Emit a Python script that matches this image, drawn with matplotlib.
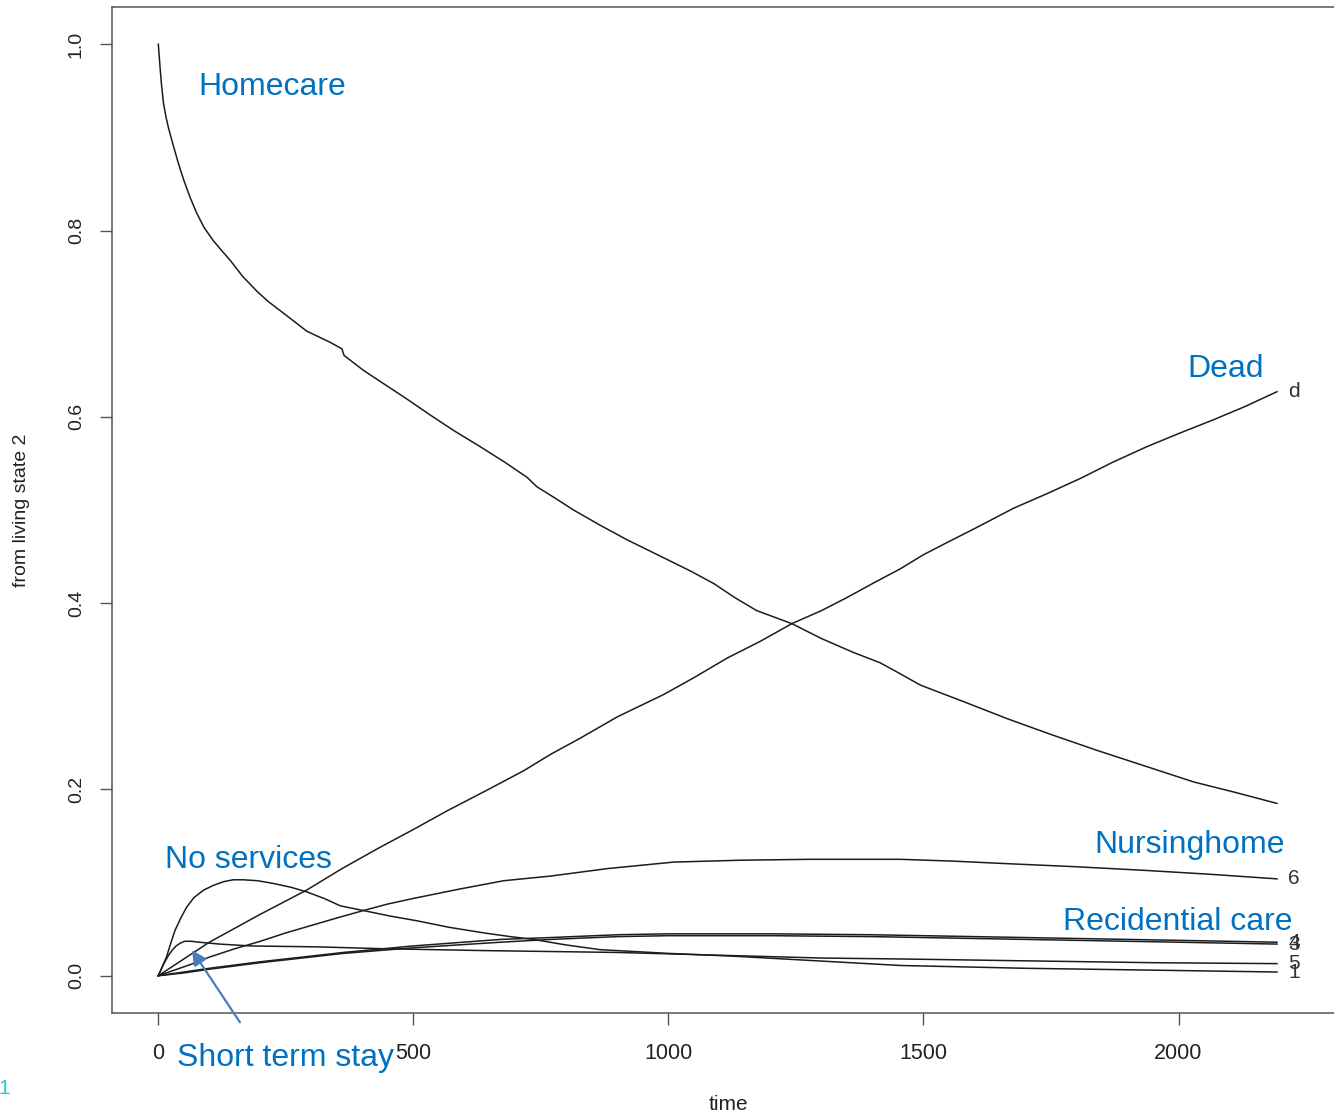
import matplotlib
matplotlib.use("Agg")
import matplotlib.pyplot as plt

plt.rcParams['font.family'] = ['Liberation Sans', 'DejaVu Sans']

# transition probabilities from living state 2, read per state
t_home = [0, 3, 6, 10, 15, 20, 30, 40, 50, 62, 75, 90, 108, 125, 141, 165, 193, 215,
          239, 265, 291, 314, 337, 360, 364, 402, 435, 485, 533, 580, 631, 680, 723,
          742, 780, 814, 865, 919, 997, 1045, 1089, 1130, 1173, 1242, 1300, 1363,
          1415, 1455, 1494, 1580, 1664, 1750, 1840, 1935, 2030, 2110, 2193]
p_home = [1.0, 0.978, 0.958, 0.937, 0.922, 0.910, 0.890, 0.871, 0.854, 0.836, 0.819,
          0.803, 0.789, 0.778, 0.768, 0.751, 0.735, 0.724, 0.714, 0.703, 0.692, 0.686,
          0.680, 0.673, 0.666, 0.650, 0.638, 0.620, 0.602, 0.585, 0.568, 0.551, 0.535,
          0.525, 0.512, 0.500, 0.484, 0.468, 0.447, 0.434, 0.421, 0.406, 0.392, 0.378,
          0.362, 0.347, 0.336, 0.324, 0.312, 0.294, 0.276, 0.259, 0.242, 0.225, 0.208,
          0.197, 0.185]

t_dead = [0, 50, 100, 200, 291, 360, 435, 500, 566, 640, 716, 770, 827, 900, 991, 1050,
          1115, 1180, 1242, 1300, 1350, 1400, 1455, 1500, 1546, 1600, 1677, 1740, 1808,
          1870, 1938, 2000, 2069, 2130, 2193]
p_dead = [0.0, 0.018, 0.036, 0.066, 0.092, 0.115, 0.138, 0.157, 0.177, 0.198, 0.220,
          0.238, 0.255, 0.278, 0.302, 0.320, 0.341, 0.359, 0.378, 0.392, 0.406, 0.421,
          0.437, 0.452, 0.465, 0.480, 0.502, 0.517, 0.534, 0.551, 0.568, 0.582, 0.597,
          0.611, 0.627]

t_noserv = [0, 8, 16, 25, 33, 45, 56, 70, 89, 108, 128, 147, 167, 195, 226, 260, 291,
            325, 357, 402, 455, 507, 570, 638, 690, 735, 800, 866, 1000, 1127, 1259,
            1455, 1700, 1950, 2193]
p_noserv = [0.0, 0.010, 0.020, 0.036, 0.049, 0.063, 0.074, 0.084, 0.092, 0.097, 0.101,
            0.103, 0.103, 0.102, 0.099, 0.095, 0.090, 0.083, 0.075, 0.070, 0.064, 0.059,
            0.052, 0.046, 0.042, 0.039, 0.033, 0.028, 0.024, 0.021, 0.017, 0.011, 0.008,
            0.006, 0.004]

t_short = [0, 10, 20, 28, 35, 43, 52, 65, 80, 120, 180, 311, 442, 638, 769, 900, 1100,
           1300, 1455, 1700, 1950, 2193]
p_short = [0.0, 0.012, 0.022, 0.028, 0.032, 0.035, 0.037, 0.037, 0.036, 0.034, 0.032,
           0.031, 0.029, 0.027, 0.026, 0.025, 0.022, 0.019, 0.018, 0.016, 0.014, 0.013]

t_nurse = [0, 68, 100, 150, 200, 250, 300, 350, 402, 450, 500, 590, 677, 769, 880, 1010,
           1140, 1278, 1455, 1560, 1677, 1800, 1938, 2060, 2193]
p_nurse = [0.0, 0.013, 0.020, 0.029, 0.037, 0.046, 0.054, 0.062, 0.070, 0.077, 0.083,
           0.093, 0.102, 0.107, 0.115, 0.122, 0.124, 0.125, 0.125, 0.123, 0.120, 0.117,
           0.113, 0.109, 0.104]

t_s4 = [0, 50, 100, 200, 363, 500, 671, 769, 900, 1000, 1200, 1400, 1600, 1800, 2000, 2193]
p_s4 = [0.0, 0.004, 0.008, 0.015, 0.025, 0.032, 0.039, 0.041, 0.044, 0.045, 0.045, 0.044,
        0.042, 0.040, 0.038, 0.036]
p_s3 = [0.0, 0.003, 0.007, 0.014, 0.024, 0.030, 0.036, 0.039, 0.042, 0.043, 0.043, 0.042,
        0.040, 0.038, 0.036, 0.034]

curves = [
    (t_noserv, p_noserv, '1'),
    (t_home, p_home, None),
    (t_s4, p_s3, '3'),
    (t_s4, p_s4, '4'),
    (t_short, p_short, '5'),
    (t_nurse, p_nurse, '6'),
    (t_dead, p_dead, 'd'),
]

W, H = 1334, 1117
fig = plt.figure(figsize=(W / 100, H / 100), dpi=100)
ax = fig.add_axes([112 / W, (H - 1013) / H, 1 - 112 / W, 1006 / H])

line_col = '#1c1c1c'
for t, p, lab in curves:
    ax.plot(t, p, color=line_col, lw=1.1)
    if lab is not None:
        ax.annotate(lab, (t[-1], p[-1]), xytext=(8, 0), textcoords='offset points',
                    ha='left', va='center', fontsize=15, color='#333333')

ax.set_xlim(-90.8, 2304.8)
ax.set_ylim(-0.04, 1.04)
ax.set_xticks([0, 500, 1000, 1500, 2000])
ax.set_yticks([0.0, 0.2, 0.4, 0.6, 0.8, 1.0])
ax.set_yticklabels(['0.0', '0.2', '0.4', '0.6', '0.8', '1.0'], rotation=90, va='center')
ax.tick_params(axis='x', length=8.6, width=1.0, color='#555555', pad=13,
               labelsize=15.5, labelcolor='#222222')
ax.tick_params(axis='y', length=8.6, width=1.0, color='#555555', pad=11,
               labelsize=14, labelcolor='#222222')
for side in ['left', 'bottom', 'top']:
    ax.spines[side].set_color('#555555')
    ax.spines[side].set_linewidth(1.1)
ax.spines['right'].set_visible(False)


def px(x, y):
    return x / W, 1 - y / H


fig.text(*px(22, 510), 'from living state 2', rotation=90, ha='center', va='center',
         fontsize=14, color='#222222')
fig.text(*px(728, 1105), 'time', ha='center', va='center', fontsize=15, color='#222222')

# state names
blue = '#0070C0'
names = [
    ('Homecare', 77.8, 0.945),
    ('Dead', 2017, 0.6425),
    ('No services', 13, 0.1156),
    ('Nursinghome', 1836, 0.132),
    ('Recidential care', 1773, 0.0491),
    ('Short term stay', 36.6, -0.0973),
]
for txt, x, y in names:
    ax.annotate(txt, (x, y), ha='left', va='baseline', fontsize=23, color=blue,
                annotation_clip=False)

ax.annotate('', xy=(66, 0.0275), xytext=(160, -0.050), annotation_clip=False,
            arrowprops=dict(arrowstyle='-|>', color='#4A7EBB', lw=1.6,
                            mutation_scale=22, shrinkA=0, shrinkB=0))

fig.text(*px(4, 1088), '1', ha='center', va='center', fontsize=15, color='#33C6C6',
         fontweight='light')

fig.savefig('out.png', dpi=100)
